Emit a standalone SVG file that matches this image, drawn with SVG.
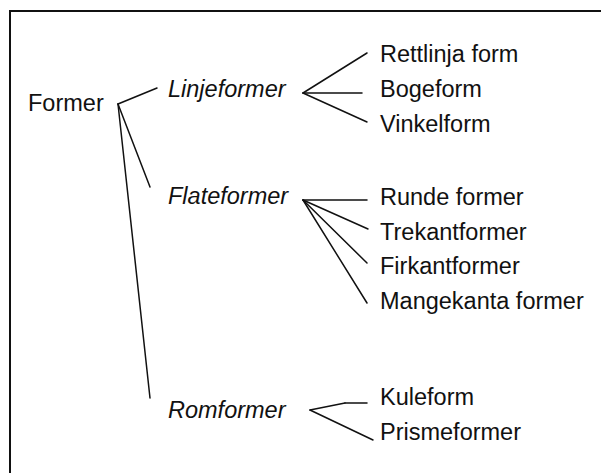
<svg xmlns="http://www.w3.org/2000/svg" width="601" height="473" viewBox="0 0 601 473">
<style>
text{font-family:"Liberation Sans",Arial,sans-serif;font-size:23.5px;fill:#111}
.i{font-style:italic}
.c line{stroke:#111;stroke-width:1.5;stroke-linecap:round}
</style>
<rect x="0" y="0" width="601" height="473" fill="#fff"/>
<rect x="10" y="11" width="600" height="470" fill="none" stroke="#111" stroke-width="2"/>
<g class="c" id="connectors">
<line x1="118" y1="104" x2="157" y2="88"/>
<line x1="118" y1="104" x2="150" y2="187"/>
<line x1="118" y1="104" x2="150" y2="398"/>
<line x1="303" y1="93" x2="367" y2="53"/>
<line x1="303" y1="93" x2="362" y2="93"/>
<line x1="303" y1="93" x2="367" y2="122"/>
<line x1="303" y1="200" x2="367" y2="200"/>
<line x1="303" y1="200" x2="368" y2="229"/>
<line x1="303" y1="200" x2="367" y2="263"/>
<line x1="303" y1="200" x2="367" y2="303"/>
<line x1="310" y1="410" x2="345" y2="403"/>
<line x1="345" y1="403" x2="367" y2="403"/>
<line x1="310" y1="410" x2="373" y2="440"/>
</g>
<g id="former"><text x="28" y="111">Former</text></g>
<g id="linjeformer"><text class="i" x="168" y="97">Linjeformer</text></g>
<g id="rettlinja"><text x="380" y="62">Rettlinja form</text></g>
<g id="bogeform"><text x="380" y="97">Bogeform</text></g>
<g id="vinkelform"><text x="380" y="132">Vinkelform</text></g>
<g id="flateformer"><text class="i" x="168" y="204">Flateformer</text></g>
<g id="runde"><text x="380" y="205">Runde former</text></g>
<g id="trekant"><text x="380" y="240">Trekantformer</text></g>
<g id="firkant"><text x="380" y="274">Firkantformer</text></g>
<g id="mangekanta"><text x="380" y="309">Mangekanta former</text></g>
<g id="romformer"><text class="i" x="168" y="418">Romformer</text></g>
<g id="kuleform"><text x="380" y="405">Kuleform</text></g>
<g id="prismeformer"><text x="380" y="440">Prismeformer</text></g>
</svg>
